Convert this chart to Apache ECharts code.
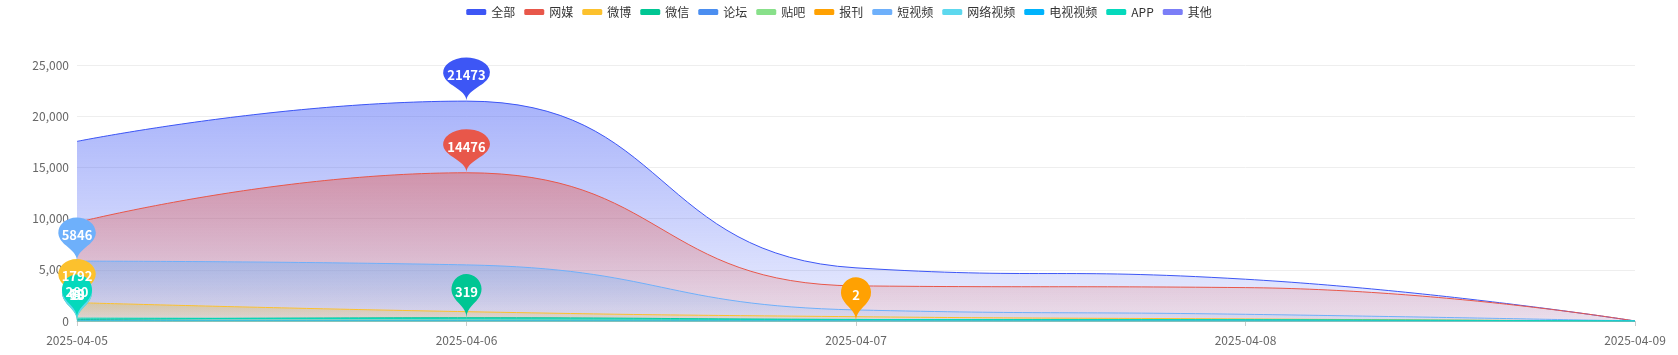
<!DOCTYPE html>
<html>
<head>
<meta charset="utf-8">
<title>chart</title>
<script src="https://cdn.jsdelivr.net/npm/echarts@6/dist/echarts.min.js"></script>
<style>
  html, body { margin: 0; padding: 0; background: #fff; }
  #main { width: 1678px; height: 355px; }
</style>
</head>
<body>
<div id="main"></div>
<script>
const dates = ['2025-04-05', '2025-04-06', '2025-04-07', '2025-04-08', '2025-04-09']
const names = ['全部', '网媒', '微博', '微信', '论坛', '贴吧', '报刊', '短视频', '网络视频', '电视视频', 'APP', '其他']
const colors = ['#3d56f5', '#e8574a', '#fcc12d', '#00c693', '#4b8ef0', '#88e08a', '#ffa102', '#6eb0fb', '#5dd8ee', '#00b3fc', '#05d9bc', '#7b7ef7']

const allData = [17540, 21473, 5190, 4080, 0]
const webData = [9620, 14476, 3430, 3260, 0]
const weiboData = [1792, 910, 420, 200, 0]
const wechatData = [150, 319, 150, 110, 0]
const forumData = [60, 40, 20, 30, 0]
const tiebaData = [5, 3, 2, 1, 0]
const paperData = [0, 1, 2, 0, 0]
const shortVideoData = [5846, 5480, 1080, 655, 0]
const netVideoData = [18, 10, 6, 4, 0]
const tvVideoData = [0, 0, 0, 0, 0]
const appData = [280, 230, 150, 120, 0]
const otherData = []

const seriesData = [allData, webData, weiboData, wechatData, forumData, tiebaData, paperData,
  shortVideoData, netVideoData, tvVideoData, appData, otherData]

const fontFamily = '"Microsoft YaHei", "Noto Sans CJK SC", sans-serif'

const hexToRgba = (hex, a) => {
  const n = parseInt(hex.slice(1), 16)
  return `rgba(${(n >> 16) & 255},${(n >> 8) & 255},${n & 255},${a})`
}

// 气泡宽度随数字位数变化
const pinSize = (val) => [Math.max(50, String(val).length * 15.6), 50]

const chart = echarts.init(document.getElementById('main'))

const series = names.map((name, i) => {
  const data = seriesData[i]
  const hasValue = data.some(v => v > 0)
  return {
    name,
    type: 'line',
    smooth: true,
    showSymbol: false,
    data,
    lineStyle: { width: 1, color: colors[i] },
    itemStyle: { color: colors[i] },
    areaStyle: {
      opacity: 1,
      color: new echarts.graphic.LinearGradient(0, 0, 0, 1, [
        { offset: 0, color: hexToRgba(colors[i], 0.45) },
        { offset: 1, color: hexToRgba(colors[i], 0.1) }
      ])
    },
    markPoint: hasValue ? {
      symbol: 'pin',
      symbolSize: pinSize,
      data: [{ type: 'max', name: '最大值' }],
      label: { color: '#fff', fontSize: 13, fontWeight: 'bold', fontFamily }
    } : undefined
  }
})

chart.setOption({
  animation: false,
  color: colors,
  textStyle: { fontFamily },
  legend: {
    top: 1,
    left: 'center',
    icon: 'roundRect',
    itemWidth: 20,
    itemHeight: 6,
    itemGap: 9,
    textStyle: { fontSize: 12, color: '#333', fontFamily },
    data: names
  },
  tooltip: { trigger: 'axis' },
  grid: { left: 77, right: 43, top: 65, bottom: 34, containLabel: false },
  xAxis: {
    type: 'category',
    boundaryGap: false,
    data: dates,
    axisLine: { lineStyle: { color: '#ccc' } },
    axisTick: { lineStyle: { color: '#ccc' } },
    axisLabel: { color: '#666', fontSize: 12, margin: 13, fontFamily }
  },
  yAxis: {
    type: 'value',
    min: 0,
    max: 25000,
    interval: 5000,
    axisLine: { show: false },
    axisTick: { show: false },
    splitLine: { lineStyle: { color: '#eee' } },
    axisLabel: { color: '#666', fontSize: 12, margin: 8, fontFamily }
  },
  series
})

window.addEventListener('resize', () => chart.resize())
</script>
</body>
</html>
